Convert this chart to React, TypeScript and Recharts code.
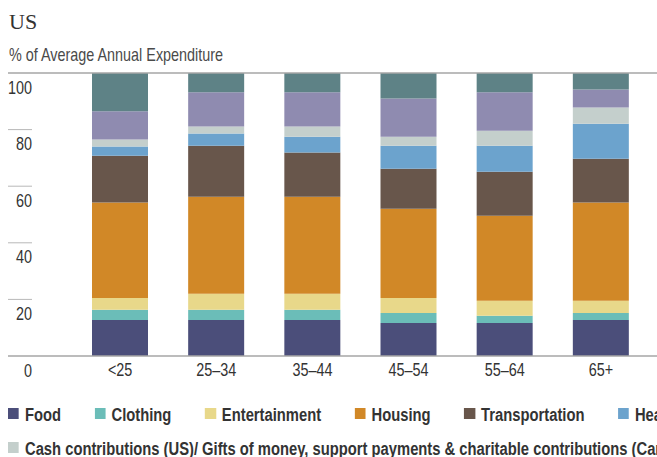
import { BarChart, Bar, XAxis, YAxis } from "recharts"

const ageGroups = ["<25", "25–34", "35–44", "45–54", "55–64", "65+"]
const food = [12.7, 12.7, 12.7, 11.7, 11.7, 12.7]
const clothing = [3.6, 3.6, 3.6, 3.5, 2.5, 2.5]
const entertainment = [4.2, 5.7, 5.7, 5.3, 5.3, 4.3]
const housing = [33.7, 34.3, 34.3, 31.5, 30.1, 34.7]
const transportation = [16.6, 18.0, 15.6, 14.2, 15.5, 15.5]
const healthcare = [3.2, 4.3, 5.6, 8.1, 9.2, 12.4]
const cashContributions = [2.5, 2.5, 3.6, 3.2, 5.3, 5.7]
const insurance = [10.0, 12.1, 12.1, 13.5, 13.6, 6.4]
const other = [13.5, 6.8, 6.8, 9.0, 6.8, 5.8]
const yTicks = [0, 20, 40, 60, 80, 100]

const series = [
  { key: "food", name: "Food", values: food, color: "#4b4e7a" },
  { key: "clothing", name: "Clothing", values: clothing, color: "#6bbdb8" },
  { key: "entertainment", name: "Entertainment", values: entertainment, color: "#e8d88a" },
  { key: "housing", name: "Housing", values: housing, color: "#d18827" },
  { key: "transportation", name: "Transportation", values: transportation, color: "#68564b" },
  { key: "healthcare", name: "Healthcare", values: healthcare, color: "#6ca3cd" },
  {
    key: "cash",
    name: "Cash contributions (US)/ Gifts of money, support payments & charitable contributions (Canada)",
    values: cashContributions,
    color: "#c4cfcc",
  },
  { key: "insurance", name: "Personal insurance & pensions", values: insurance, color: "#8f8bb0" },
  { key: "other", name: "Other", values: other, color: "#5e8286" },
]

const data = ageGroups.map((age, i) => {
  const row: Record<string, string | number> = { age }
  series.forEach((s) => (row[s.key] = s.values[i]))
  return row
})

// no condensed face installed, so squeeze Liberation Sans horizontally
const sans = '"Liberation Sans", Arial, sans-serif'
const SQUEEZE = 0.8
const LEGEND_SQUEEZE = 0.82

function NarrowText({ x, y, anchor = "start", size = 18, fill = "#333", children }: any) {
  return (
    <text
      transform={`translate(${x},${y}) scale(${SQUEEZE},1)`}
      textAnchor={anchor}
      fontFamily={sans}
      fontSize={size}
      fill={fill}
    >
      {children}
    </text>
  )
}

function YTick(props: any) {
  const { y, payload } = props
  const v = payload.value
  const full = v === 0 || v === 100
  return (
    <g>
      <line x1={8} x2={full ? 657 : 32} y1={y} y2={y} stroke={full ? "#a6a6a6" : "#b8b8b8"} strokeWidth={full ? 1.5 : 1} />
      <NarrowText x={32} y={y + 20.5} anchor="end">
        {v}
      </NarrowText>
    </g>
  )
}

function XTick(props: any) {
  const { x, payload } = props
  return (
    <NarrowText x={x} y={376} anchor="middle">
      {payload.value}
    </NarrowText>
  )
}

export default function App() {
  const k = 1 / LEGEND_SQUEEZE
  return (
    <div style={{ position: "relative", width: 657, height: 457, overflow: "hidden", background: "#fff" }}>
      <style>{`body{margin:0}`}</style>
      <svg width={657} height={70} style={{ position: "absolute", left: 0, top: 0 }}>
        <text x={9} y={29} fontFamily='"Liberation Serif", "Times New Roman", serif' fontSize={22} fill="#333">
          US
        </text>
        <NarrowText x={9} y={61} fill="#4a4a4a">
          % of Average Annual Expenditure
        </NarrowText>
      </svg>
      <div style={{ position: "absolute", left: 0, top: 0 }}>
        <BarChart width={657} height={390} data={data} margin={{ top: 73, right: 8, left: 8, bottom: 0 }}>
          <YAxis domain={[0, 100]} ticks={yTicks} width={64} axisLine={false} tickLine={false} tick={<YTick />} interval={0} />
          <XAxis dataKey="age" height={34} axisLine={false} tickLine={false} tick={<XTick />} interval={0} />
          {series.map((s) => (
            <Bar key={s.key} dataKey={s.key} name={s.name} stackId="a" fill={s.color} barSize={56} isAnimationActive={false} />
          ))}
        </BarChart>
      </div>
      <div style={{ position: "absolute", left: 8, top: 406, width: 649, height: 51, overflow: "hidden" }}>
        <div
          style={{
            transform: `scaleX(${LEGEND_SQUEEZE})`,
            transformOrigin: "0 0",
            width: 649 * k + 400,
            fontFamily: sans,
            fontWeight: "bold",
            fontSize: 18,
            color: "#333",
            lineHeight: "18px",
          }}
        >
          {[series.slice(0, 6), series.slice(6)].map((row, ri) => (
            <div key={ri} style={{ display: "flex", whiteSpace: "nowrap", gap: 33.5 * k, height: 18, marginBottom: ri === 0 ? 15.5 : 0 }}>
              {row.map((s) => (
                <div key={s.key} style={{ display: "flex", alignItems: "flex-start", flexShrink: 0 }}>
                  <span style={{ width: 11 * k, height: 11, marginTop: 2, background: s.color, marginRight: 6 * k, display: "inline-block" }} />
                  <span>{s.name}</span>
                </div>
              ))}
            </div>
          ))}
        </div>
      </div>
    </div>
  )
}
